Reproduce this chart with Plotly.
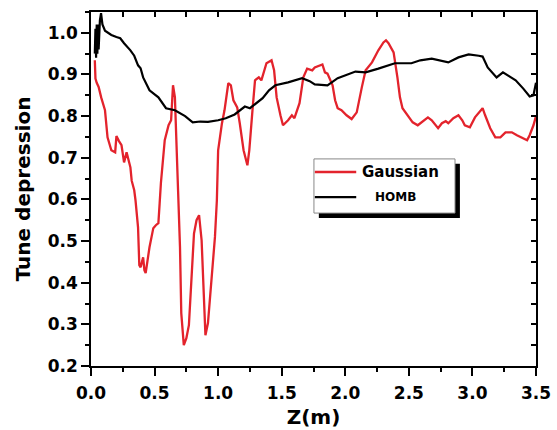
import plotly.graph_objects as go

# Gaussian beam: tune depression along z
z_gauss = [0.03, 0.035, 0.045, 0.06, 0.08, 0.11, 0.13, 0.16, 0.19, 0.20, 0.22, 0.24, 0.26, 0.28,
           0.31, 0.32, 0.34, 0.35, 0.37, 0.38, 0.39, 0.41, 0.42, 0.43, 0.46, 0.49, 0.51, 0.53,
           0.54, 0.55, 0.58, 0.61, 0.63, 0.645, 0.66, 0.67, 0.685, 0.70, 0.71, 0.73, 0.75, 0.77,
           0.79, 0.81, 0.83, 0.85, 0.87, 0.89, 0.90, 0.92, 0.95, 0.975, 0.99, 1.0, 1.03, 1.05,
           1.08, 1.10, 1.12, 1.15, 1.17, 1.20, 1.23, 1.245, 1.27, 1.29, 1.32, 1.34, 1.38, 1.42,
           1.44, 1.46, 1.49, 1.51, 1.55, 1.58, 1.60, 1.64, 1.67, 1.70, 1.74, 1.76, 1.82, 1.84,
           1.86, 1.90, 1.92, 1.94, 1.97, 2.01, 2.05, 2.09, 2.13, 2.16, 2.21, 2.26, 2.30, 2.32,
           2.34, 2.38, 2.41, 2.43, 2.45, 2.49, 2.53, 2.57, 2.60, 2.65, 2.68, 2.73, 2.76, 2.79,
           2.81, 2.85, 2.89, 2.92, 2.94, 2.98, 3.02, 3.08, 3.10, 3.14, 3.18, 3.22, 3.26, 3.31,
           3.35, 3.39, 3.43, 3.45, 3.48, 3.50]
td_gauss = [0.934, 0.89, 0.88, 0.87, 0.845, 0.814, 0.749, 0.718, 0.713, 0.752, 0.74, 0.73, 0.689, 0.713,
            0.677, 0.645, 0.622, 0.598, 0.533, 0.442, 0.437, 0.461, 0.43, 0.423, 0.485, 0.531, 0.538, 0.543,
            0.591, 0.64, 0.742, 0.778, 0.79, 0.874, 0.845, 0.735, 0.62, 0.485, 0.327, 0.25, 0.267, 0.298,
            0.406, 0.518, 0.55, 0.562, 0.502, 0.358, 0.274, 0.303, 0.413, 0.51, 0.598, 0.718, 0.783, 0.814,
            0.879, 0.874, 0.838, 0.821, 0.783, 0.718, 0.682, 0.718, 0.814, 0.886, 0.893, 0.886, 0.927, 0.934,
            0.91, 0.845, 0.802, 0.778, 0.79, 0.802, 0.795, 0.831, 0.893, 0.914, 0.91, 0.917, 0.924, 0.905,
            0.902, 0.874, 0.838, 0.819, 0.814, 0.802, 0.793, 0.809, 0.869, 0.91, 0.929, 0.958, 0.977, 0.982,
            0.975, 0.953, 0.893, 0.845, 0.819, 0.802, 0.785, 0.778, 0.785, 0.797, 0.79, 0.771, 0.783, 0.788,
            0.783, 0.795, 0.802, 0.79, 0.778, 0.773, 0.797, 0.819, 0.802, 0.771, 0.749, 0.749, 0.761, 0.761,
            0.754, 0.747, 0.742, 0.754, 0.778, 0.80]

# HOMB beam: tune depression along z
z_homb = [0.03, 0.035, 0.04, 0.045, 0.05, 0.055, 0.06, 0.065, 0.07, 0.079, 0.09, 0.11, 0.16, 0.20,
          0.23, 0.26, 0.31, 0.34, 0.37, 0.39, 0.41, 0.46, 0.53, 0.59, 0.66, 0.74, 0.80, 0.86, 0.92,
          1.0, 1.06, 1.13, 1.18, 1.21, 1.25, 1.30, 1.35, 1.40, 1.45, 1.55, 1.66, 1.72, 1.76, 1.86,
          1.94, 2.08, 2.16, 2.26, 2.39, 2.52, 2.59, 2.68, 2.81, 2.89, 2.97, 3.05, 3.08, 3.12, 3.19,
          3.24, 3.34, 3.40, 3.45, 3.48, 3.50]
td_homb = [0.95, 1.01, 0.94, 1.02, 0.95, 1.02, 0.96, 1.00, 1.03, 1.047, 1.02, 1.005, 0.995, 0.99,
           0.987, 0.975, 0.958, 0.945, 0.922, 0.915, 0.893, 0.862, 0.845, 0.819, 0.814, 0.80, 0.785, 0.787, 0.786,
           0.79, 0.795, 0.804, 0.815, 0.823, 0.819, 0.832, 0.843, 0.862, 0.874, 0.881, 0.891, 0.884, 0.876, 0.874,
           0.891, 0.907, 0.905, 0.914, 0.927, 0.927, 0.934, 0.938, 0.929, 0.941, 0.948, 0.945, 0.943, 0.917, 0.893,
           0.905, 0.886, 0.866, 0.847, 0.85, 0.88]

x_ticks = [0.0, 0.5, 1.0, 1.5, 2.0, 2.5, 3.0, 3.5]
y_ticks = [0.2, 0.3, 0.4, 0.5, 0.6, 0.7, 0.8, 0.9, 1.0]

RED = "#e3232c"
FONT = "DejaVu Sans"

fig = go.Figure()
fig.add_trace(go.Scatter(x=z_gauss, y=td_gauss, mode="lines", name="Gaussian",
                         line=dict(color=RED, width=2.3), showlegend=False))
fig.add_trace(go.Scatter(x=z_homb, y=td_homb, mode="lines", name="HOMB",
                         line=dict(color="black", width=2.2), showlegend=False))
# empty trace so the mirrored top/right axes get drawn
fig.add_trace(go.Scatter(x=[None], y=[None], xaxis="x2", yaxis="y2", showlegend=False,
                         hoverinfo="skip"))

axis_common = dict(showline=True, linecolor="black", linewidth=1.5, showgrid=False,
                   zeroline=False, tickcolor="black", tickwidth=1.5, automargin=False)

fig.update_layout(
    width=557, height=430,
    margin=dict(l=91, r=21, t=12, b=64),
    plot_bgcolor="white", paper_bgcolor="white",
    font=dict(family=FONT, color="black"),
    xaxis=dict(range=[0, 3.5], tickvals=x_ticks, ticktext=[f"{v:.1f}" for v in x_ticks],
               ticks="outside", ticklen=8, ticklabelstandoff=3,
               minor=dict(dtick=0.25, tick0=0, ticklen=4, ticks="outside",
                          tickcolor="black", tickwidth=1.5),
               tickfont=dict(size=17, family=FONT, weight="bold"),
               title=dict(text="<b>Z(m)</b>", font=dict(size=20, family=FONT), standoff=8),
               **axis_common),
    yaxis=dict(range=[0.2, 1.05], tickvals=y_ticks, ticktext=[f"{v:.1f}" for v in y_ticks],
               ticks="outside", ticklen=8,
               minor=dict(dtick=0.05, tick0=0.2, ticklen=4, ticks="outside",
                          tickcolor="black", tickwidth=1.5),
               tickfont=dict(size=17, family=FONT, weight="bold"),
               title=dict(text="<b>Tune depression</b>", font=dict(size=20, family=FONT), standoff=12),
               **axis_common),
    xaxis2=dict(overlaying="x", side="top", range=[0, 3.5], dtick=0.25, tick0=0,
                ticks="inside", ticklen=5, showticklabels=False, anchor="y", **axis_common),
    yaxis2=dict(overlaying="y", side="right", range=[0.2, 1.05], dtick=0.05, tick0=0.2,
                ticks="inside", ticklen=5, showticklabels=False, anchor="x", **axis_common),
)

# legend box with drop shadow
fig.add_shape(type="rect", xref="paper", yref="paper", x0=0.512, x1=0.829, y0=0.418, y1=0.571,
              fillcolor="black", line=dict(width=0), layer="above")
fig.add_shape(type="rect", xref="paper", yref="paper", x0=0.501, x1=0.818, y0=0.432, y1=0.585,
              fillcolor="white", line=dict(color="#888888", width=1), layer="above")
legend_rows = [("Gaussian", RED, 0.548, 15, 0.604), ("HOMB", "black", 0.477, 12, 0.634)]
for label, color, yrow, size, xtext in legend_rows:
    fig.add_shape(type="line", xref="paper", yref="paper", x0=0.503, x1=0.596, y0=yrow, y1=yrow,
                  line=dict(color=color, width=2.3), layer="above")
    fig.add_annotation(xref="paper", yref="paper", x=xtext, y=yrow, text=f"<b>{label}</b>",
                       showarrow=False, xanchor="left", yanchor="middle",
                       font=dict(size=size, family=FONT, color="black"))

fig.write_html("out.html")
